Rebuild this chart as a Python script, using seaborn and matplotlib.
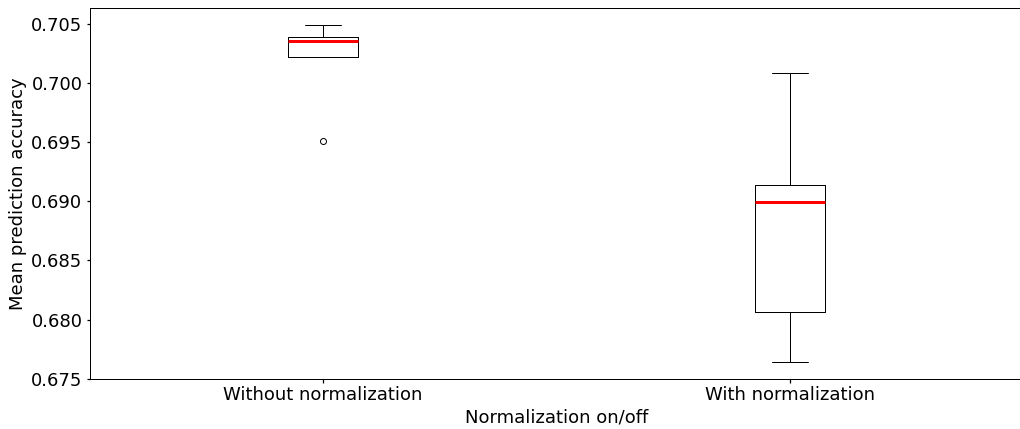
import pandas as pd
import seaborn as sns
import matplotlib
matplotlib.use("Agg")
import matplotlib.pyplot as plt

sns.set_theme(style="ticks")
plt.rcParams['font.family'] = ['DejaVu Sans']
plt.rcParams.update({
    "text.color": "black", "axes.labelcolor": "black", "axes.edgecolor": "black",
    "xtick.color": "black", "ytick.color": "black",
    "xtick.labelsize": 18, "ytick.labelsize": 18, "axes.labelsize": 18,
    "axes.linewidth": 1.0, "xtick.major.size": 3.5, "ytick.major.size": 3.5,
})

# mean prediction accuracy per run
settings = ["Without normalization", "With normalization"]
without_norm = [0.6951, 0.7022, 0.7035, 0.7039, 0.7049]
with_norm = [0.6764, 0.6806, 0.6899, 0.6914, 0.7008]

df = pd.DataFrame({
    "setting": [settings[0]] * len(without_norm) + [settings[1]] * len(with_norm),
    "accuracy": without_norm + with_norm,
})

fig = plt.figure(figsize=(1020 / 72, 429 / 72), dpi=72)
# right spine falls just outside the picture, as in the reference
ax = fig.add_axes([89.5 / 1020, 1 - 379 / 429, 934 / 1020, 371 / 429])

sns.boxplot(data=df, x="setting", y="accuracy", order=settings, ax=ax,
            width=0.15, fill=False, color="black", linewidth=1,
            medianprops=dict(color="red", linewidth=3),
            flierprops=dict(marker="o", markersize=6, markerfacecolor="none",
                            markeredgecolor="black"))

ax.set_xlabel("Normalization on/off")
ax.set_ylabel("Mean prediction accuracy")
ax.set_xlim(-0.5, 1.5)

fig.savefig("out.png", dpi=72)
